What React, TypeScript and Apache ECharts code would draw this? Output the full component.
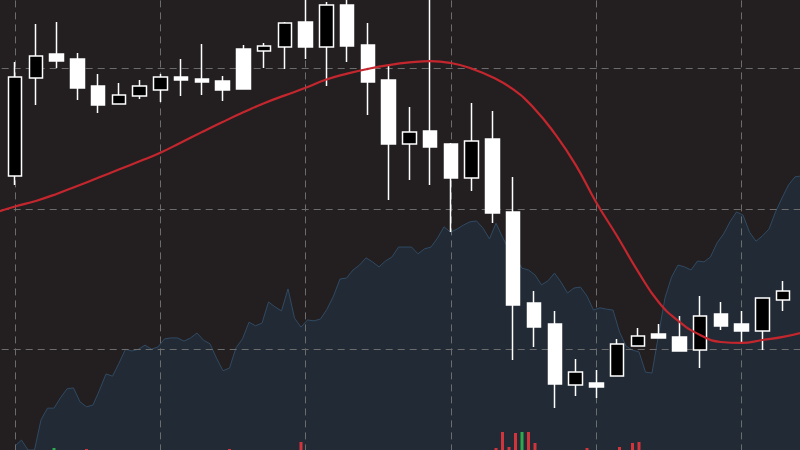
import React, { useEffect, useRef } from "react";
import * as echarts from "echarts";

// Candles (index 0..37)
const candleOpen = [2223.4, 2293.3, 2310.4, 2306.9, 2287.6, 2274.8, 2280.5, 2284.7, 2294.0, 2292.6, 2291.2, 2314.0, 2312.6, 2315.4, 2333.2, 2315.4, 2345.4, 2316.8, 2291.9, 2246.2, 2255.5, 2246.2, 2222.0, 2249.8, 2197.7, 2132.8, 2117.8, 2074.3, 2075.7, 2080.7, 2102.1, 2110.7, 2108.6, 2099.3, 2125.0, 2117.8, 2112.8, 2135.0];
const candleClose = [2294.0, 2309.0, 2305.4, 2286.2, 2274.0, 2281.2, 2287.6, 2294.0, 2291.9, 2290.4, 2284.7, 2285.5, 2316.1, 2332.5, 2315.4, 2345.4, 2316.1, 2290.4, 2246.2, 2254.8, 2244.1, 2222.0, 2248.4, 2197.0, 2131.4, 2115.7, 2075.0, 2083.6, 2072.9, 2103.6, 2109.3, 2107.8, 2098.6, 2123.5, 2116.4, 2112.8, 2136.4, 2141.4];
const candleLow = [2217.0, 2274.0, 2300.4, 2277.6, 2268.3, 2274.8, 2278.3, 2276.2, 2280.5, 2281.2, 2276.9, 2285.5, 2300.4, 2299.7, 2306.9, 2287.6, 2304.7, 2266.9, 2206.3, 2220.5, 2217.0, 2183.5, 2212.7, 2189.9, 2092.2, 2101.4, 2057.9, 2066.5, 2065.0, 2080.7, 2102.1, 2107.8, 2098.6, 2086.4, 2113.6, 2104.3, 2099.3, 2127.1];
const candleHigh = [2304.7, 2331.8, 2333.2, 2311.1, 2296.2, 2289.7, 2291.9, 2296.2, 2306.9, 2317.6, 2294.7, 2316.8, 2318.3, 2333.2, 2356.1, 2347.5, 2352.5, 2332.5, 2301.9, 2272.6, 2356.1, 2246.9, 2275.5, 2269.8, 2222.7, 2141.4, 2127.1, 2092.9, 2085.0, 2107.1, 2115.0, 2117.8, 2123.5, 2137.8, 2133.5, 2127.1, 2136.4, 2148.5];

// Smoothed average line (index -1..38)
const maStartIndex = -1;
const maValues = [2197.0, 2201.6, 2205.6, 2210.6, 2216.3, 2222.1, 2228.0, 2233.9, 2240.0, 2247.3, 2254.7, 2261.9, 2268.8, 2275.3, 2280.9, 2286.3, 2292.2, 2296.4, 2299.8, 2302.5, 2304.4, 2305.4, 2304.0, 2300.0, 2293.8, 2285.1, 2271.8, 2253.6, 2231.5, 2204.5, 2180.6, 2155.6, 2133.5, 2119.5, 2110.0, 2105.0, 2104.3, 2106.4, 2108.6, 2112.1];

// Background area series (fine index 0..121)
const areaValues = [0.9, 2.2, 0, 0, 6.7, 9.3, 9.3, 11.6, 13.6, 13.8,
  10.7, 9.6, 10.0, 13.3, 16.9, 16.4, 19.3, 22.4, 22.0, 22.4,
  23.3, 22.4, 22.9, 24.7, 24.9, 24.9, 24.2, 24.9, 26.0, 24.4,
  23.6, 20.4, 17.6, 18.2, 22.7, 24.7, 28.4, 27.6, 28.2, 32.9,
  31.8, 30.9, 35.8, 29.3, 27.3, 28.9, 28.7, 29.1, 31.3, 34.2,
  38.0, 38.2, 40.0, 41.1, 42.7, 41.8, 40.7, 42.0, 42.9, 45.1,
  45.1, 45.1, 43.6, 44.7, 45.1, 47.1, 49.6, 48.4, 49.1, 50.0,
  50.7, 50.9, 49.3, 46.9, 50.4, 47.3, 44.4, 42.7, 40.4, 40.0,
  38.9, 36.7, 37.6, 39.3, 37.3, 34.9, 36.0, 36.2, 34.2, 31.1,
  31.6, 31.3, 31.1, 26.2, 23.1, 22.2, 21.8, 17.3, 17.1, 25.6,
  33.8, 38.4, 41.1, 40.7, 40.0, 42.0, 41.8, 42.9, 46.0, 48.0,
  50.7, 52.9, 52.2, 48.4, 46.4, 47.6, 49.1, 52.9, 56.0, 58.9,
  60.7, 60.9];

// Volume bars (on the fine index)
const volumeIndex = [6, 11, 33, 44, 74, 75, 76, 77, 78, 79, 80, 88, 93, 95, 96];
const volumeValue = [4, 2, 2, 16, 4, 36, 6, 34, 36, 36, 14, 4, 6, 14, 16];
const volumeRising = [true, false, false, false, false, false, false, false, true, false, false, false, false, false, false];

// Axis ticks
const priceTicks = { min: 1900, max: 2400, interval: 100 };
const indexTicks = { min: -7, max: 42, interval: 7 };

export default function App() {
  const ref = useRef<HTMLDivElement>(null);
  useEffect(() => {
    document.body.style.margin = "0";
    const chart = echarts.init(ref.current!, undefined, { renderer: "svg" });
    const gridLine = { show: true, lineStyle: { color: "#6c6c6c", width: 1, type: [7, 5] } };
    const fineMin = -15 / 6.5;
    const fineMax = 785 / 6.5;
    chart.setOption({
      animation: false,
      backgroundColor: "#231f20",
      grid: [
        { left: -130.3, top: -71.6, width: 1017.2, height: 701, outerBoundsMode: "none", containLabel: false },
        { left: 0, top: 0, width: 800, height: 450, outerBoundsMode: "none" },
        { left: 0, top: 400, width: 800, height: 50, outerBoundsMode: "none" },
      ],
      xAxis: [
        {
          type: "value", gridIndex: 0, min: indexTicks.min, max: indexTicks.max, interval: indexTicks.interval,
          axisLine: { show: false }, axisTick: { show: false }, axisLabel: { show: false }, splitLine: gridLine,
        },
        { type: "value", gridIndex: 1, min: fineMin, max: fineMax, show: false, splitLine: { show: false } },
        { type: "value", gridIndex: 2, min: fineMin, max: fineMax, show: false, splitLine: { show: false } },
      ],
      yAxis: [
        {
          type: "value", gridIndex: 0, min: priceTicks.min, max: priceTicks.max, interval: priceTicks.interval,
          axisLine: { show: false }, axisTick: { show: false }, axisLabel: { show: false }, splitLine: gridLine,
        },
        { type: "value", gridIndex: 1, min: 0, max: 100, show: false, splitLine: { show: false } },
        { type: "value", gridIndex: 2, min: 0, max: 100, show: false, splitLine: { show: false } },
      ],
      series: [
        {
          type: "line", xAxisIndex: 1, yAxisIndex: 1, z: -1,
          data: areaValues.map((v, i) => [i, v]),
          symbol: "none",
          lineStyle: { color: "#304a63", width: 1 },
          areaStyle: { color: "#212a35", opacity: 1 },
        },
        {
          type: "bar", xAxisIndex: 2, yAxisIndex: 2, barWidth: 3,
          data: volumeIndex.map((k, i) => ({
            value: [k, volumeValue[i]],
            itemStyle: { color: volumeRising[i] ? "#2ea84f" : "#d2343b" },
          })),
        },
        {
          type: "candlestick", xAxisIndex: 0, yAxisIndex: 0, barWidth: 14,
          data: candleOpen.map((o, i) => [i, o, candleClose[i], candleLow[i], candleHigh[i]]),
          itemStyle: { color: "#000000", color0: "#ffffff", borderColor: "#ffffff", borderColor0: "#ffffff", borderWidth: 1.5 },
        },
        {
          type: "line", xAxisIndex: 0, yAxisIndex: 0, smooth: true, symbol: "none",
          data: maValues.map((v, i) => [i + maStartIndex, v]),
          lineStyle: { color: "#c4262e", width: 2.2 },
        },
      ],
    });
    return () => chart.dispose();
  }, []);
  return <div ref={ref} style={{ width: 800, height: 450 }} />;
}
